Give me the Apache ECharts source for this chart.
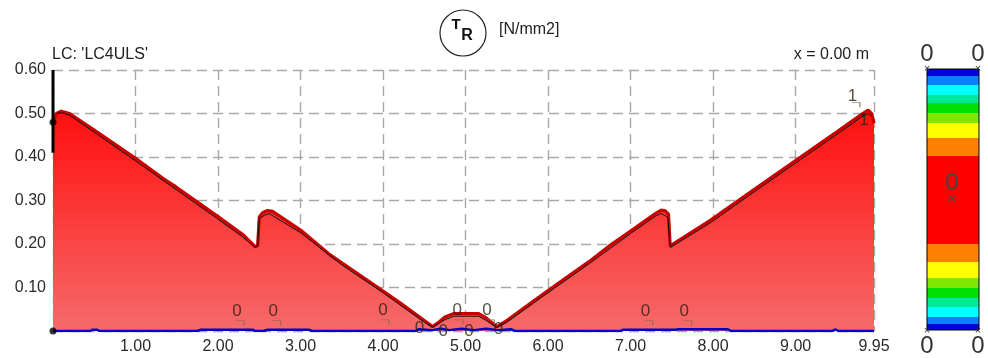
<!DOCTYPE html>
<html>
<head>
<meta charset="utf-8">
<script src="https://cdn.jsdelivr.net/npm/echarts@6/dist/echarts.min.js"></script>
<style>html,body{margin:0;padding:0;background:#fff}#c{width:988px;height:358px}</style>
</head>
<body>
<div id="c"></div>
<script>
// ---- data ----
var xTicks = [0, 1, 2, 3, 4, 5, 6, 7, 8, 9, 9.95];
var yTicks = [0, 0.1, 0.2, 0.3, 0.4, 0.5, 0.6];
var redCurve = [
  [0.00,0.480],[0.04,0.500],[0.10,0.505],[0.20,0.500],[0.50,0.462],[1.00,0.397],[1.34,0.350],
  [1.50,0.330],[2.00,0.263],[2.30,0.222],[2.45,0.194],[2.48,0.196],[2.50,0.262],[2.54,0.272],
  [2.60,0.277],[2.66,0.275],[3.00,0.232],[3.36,0.175],[3.50,0.157],[4.00,0.092],[4.21,0.064],
  [4.50,0.024],[4.60,0.010],[4.66,0.018],[4.75,0.032],[4.86,0.040],[5.16,0.040],[5.25,0.030],
  [5.38,0.010],[5.50,0.024],[5.79,0.064],[6.00,0.093],[6.50,0.160],[6.76,0.198],[7.00,0.230],
  [7.30,0.270],[7.37,0.278],[7.42,0.276],[7.46,0.268],[7.48,0.196],[7.50,0.194],[7.97,0.255],
  [8.50,0.326],[9.00,0.392],[9.50,0.458],[9.80,0.498],[9.88,0.508],[9.92,0.500],[9.95,0.478]
];
var blackCurve = [
  [0.05,0.500],[0.10,0.502],[0.20,0.496],[0.50,0.457],[1.00,0.391],[1.50,0.324],[2.00,0.257],
  [2.30,0.216],[2.45,0.192],[2.48,0.196],[2.50,0.258],[2.56,0.266],[2.62,0.270],[3.00,0.226],
  [3.50,0.152],[4.00,0.088],[4.50,0.020],[4.60,0.009],[4.75,0.026],[4.86,0.034],[5.16,0.034],
  [5.25,0.024],[5.38,0.008],[5.50,0.020],[6.00,0.088],[6.50,0.155],[7.00,0.224],[7.30,0.264],
  [7.37,0.270],[7.45,0.262],[7.48,0.192],[7.97,0.249],[8.50,0.320],[9.00,0.386],[9.50,0.452],
  [9.80,0.492],[9.88,0.500],[9.92,0.494]
];
var blueCurve = [
  [0.00,0],[0.45,0],[0.48,0.003],[0.53,0.003],[0.56,0],[1.75,0],[1.79,0.003],[2.42,0.003],
  [2.45,0],[2.50,0],[2.52,0.003],[2.55,0],[2.60,0.003],[3.10,0.003],[3.14,0],[4.40,0],
  [4.43,0.004],[4.60,0.002],[4.70,0.005],[4.80,0.002],[4.95,0.005],[5.10,0.002],[5.25,0.005],
  [5.40,0.002],[5.55,0.004],[5.60,0],[6.88,0],[6.91,0.003],[7.55,0.003],[7.58,0.004],
  [8.18,0.004],[8.22,0],[9.45,0],[9.48,0.004],[9.52,0],[9.95,0]
];
var axisSegment = [[0,0.41],[0,0.60]];
var dots = [[0,0.48],[0,0]];
var zeroLabelsHigh = [[2.23,0.046],[2.67,0.046],[4.00,0.048],[4.90,0.048],[5.26,0.048],[7.18,0.045],[7.65,0.045]];
var zeroLabelsLow = [[4.44,0.007],[4.73,0.000],[5.04,0.000],[5.40,0.003]];
var oneLabels = [[9.69,0.539],[9.83,0.485]];
var brackets = [[2.27,0.018],[2.71,0.018],[4.02,0.020],[4.92,0.020],[5.30,0.020],[7.22,0.018],[7.69,0.018],[9.73,0.520]];
var legendColors = ['#0000dd','#0a80ff','#00ffff','#00e89a','#00e000','#80e800','#ffff00','#ff8000','#ff0000',
                    '#ff8000','#ffff00','#80e800','#00e000','#00e89a','#00ffff','#0a80ff','#0000dd'];
var legendBands = [6,7,10,9,10,10,16,18,88,18,15,10,10,8,10,9,7];
var legendCategory = ['band'];

// ---- chart ----
var FONT = 'Liberation Sans, Arial, sans-serif';
var chart = echarts.init(document.getElementById('c'), null, {renderer: 'canvas'});
var gridDash = {color: '#a9a9a9', width: 1.4, type: [10, 6]};

var series = [
  {
    type: 'line', xAxisIndex: 0, yAxisIndex: 0, data: redCurve, showSymbol: false, z: 2,
    lineStyle: {color: '#c80000', width: 3.2},
    areaStyle: {color: new echarts.graphic.LinearGradient(0, 0, 0, 1, [
      {offset: 0, color: '#ff0e0e'}, {offset: 1, color: '#f66a6a'}]), opacity: 1}
  },
  {type: 'line', data: blackCurve, showSymbol: false, z: 3, lineStyle: {color: '#111', width: 1}},
  {type: 'line', data: blueCurve, showSymbol: false, z: 4, lineStyle: {color: '#0000cc', width: 2.5}},
  {type: 'line', data: axisSegment, showSymbol: false, z: 5, lineStyle: {color: '#000', width: 3}},
  {type: 'scatter', data: dots, symbolSize: 7, z: 6, itemStyle: {color: '#000'}},
  {type: 'scatter', data: brackets, z: 6, symbol: 'path://M0,0L8,0L8,5', symbolSize: [8, 5],
   itemStyle: {color: 'none', borderColor: '#8a6a50', borderWidth: 1}},
  {type: 'scatter', data: zeroLabelsHigh.concat(zeroLabelsLow), symbolSize: 0, z: 7,
   label: {show: true, position: 'inside', formatter: '0', color: '#2a2018', fontSize: 17, fontFamily: FONT}},
  {type: 'scatter', data: oneLabels, symbolSize: 0, z: 7,
   label: {show: true, position: 'inside', formatter: '1', color: '#2a2018', fontSize: 17, fontFamily: FONT}}
];
legendBands.forEach(function (h, i) {
  series.push({
    type: 'bar', xAxisIndex: 1, yAxisIndex: 1, stack: 'legend', data: [h], barWidth: '100%',
    itemStyle: {color: legendColors[i]}, silent: true
  });
});

chart.setOption({
  animation: false,
  textStyle: {fontFamily: FONT},
  grid: [
    {left: 53, right: 114, top: 70, bottom: 27},
    {left: 927, width: 52, top: 69, height: 261, show: true, borderColor: '#000', borderWidth: 1, z: 10, backgroundColor: 'transparent'}
  ],
  xAxis: [
    {type: 'value', gridIndex: 0, min: xTicks[0], max: xTicks[xTicks.length - 1], interval: 1,
     axisLine: {show: false}, axisTick: {show: false},
     axisLabel: {color: '#2a2a2a', fontSize: 16, fontFamily: FONT, margin: 8, showMaxLabel: true,
       formatter: function (v) { return v === 0 ? '' : v.toFixed(2); }},
     splitLine: {show: true, lineStyle: gridDash}},
    {type: 'category', gridIndex: 1, data: legendCategory, show: false}
  ],
  yAxis: [
    {type: 'value', gridIndex: 0, min: yTicks[0], max: yTicks[yTicks.length - 1], interval: 0.1,
     axisLine: {show: false}, axisTick: {show: false},
     axisLabel: {color: '#2a2a2a', fontSize: 16, fontFamily: FONT, margin: 7,
       formatter: function (v) { return v === 0 ? '' : v.toFixed(2); }},
     splitLine: {show: true, lineStyle: gridDash}},
    {type: 'value', gridIndex: 1, min: 0, max: 261, show: false}
  ],
  graphic: [
    {type: 'circle', shape: {cx: 463, cy: 33, r: 23}, style: {fill: 'none', stroke: '#222', lineWidth: 1.2}},
    {type: 'text', x: 456, y: 25, style: {text: 'T', font: 'bold 15px ' + FONT, fill: '#111', align: 'center', verticalAlign: 'middle'}},
    {type: 'text', x: 467, y: 36, style: {text: 'R', font: 'bold 16px ' + FONT, fill: '#111', align: 'center', verticalAlign: 'middle'}},
    {type: 'text', x: 499, y: 30, style: {text: '[N/mm2]', font: '16px ' + FONT, fill: '#222', verticalAlign: 'middle'}},
    {type: 'text', x: 52, y: 55, style: {text: "LC: 'LC4ULS'", font: '16px ' + FONT, fill: '#222', verticalAlign: 'middle'}},
    {type: 'text', x: 869, y: 55, style: {text: 'x = 0.00 m', font: '16px ' + FONT, fill: '#222', align: 'right', verticalAlign: 'middle'}},
    {type: 'text', x: 927, y: 54, style: {text: '0', font: '24px ' + FONT, fill: '#333', align: 'center', verticalAlign: 'middle'}},
    {type: 'text', x: 978, y: 54, style: {text: '0', font: '24px ' + FONT, fill: '#333', align: 'center', verticalAlign: 'middle'}},
    {type: 'text', x: 927, y: 346, style: {text: '0', font: '24px ' + FONT, fill: '#333', align: 'center', verticalAlign: 'middle'}},
    {type: 'text', x: 978, y: 346, style: {text: '0', font: '24px ' + FONT, fill: '#333', align: 'center', verticalAlign: 'middle'}},
    {type: 'text', x: 952, y: 183, z: 20, style: {text: '0', font: '24px ' + FONT, fill: '#444', align: 'center', verticalAlign: 'middle'}},
    {type: 'text', x: 952, y: 200, z: 20, style: {text: '×', font: '16px ' + FONT, fill: '#444', align: 'center', verticalAlign: 'middle'}},
    {type: 'text', x: 927, y: 69, z: 20, style: {text: '×', font: '11px ' + FONT, fill: '#333', align: 'center', verticalAlign: 'middle'}},
    {type: 'text', x: 978, y: 69, z: 20, style: {text: '×', font: '11px ' + FONT, fill: '#333', align: 'center', verticalAlign: 'middle'}},
    {type: 'text', x: 927, y: 331, z: 20, style: {text: '×', font: '11px ' + FONT, fill: '#333', align: 'center', verticalAlign: 'middle'}},
    {type: 'text', x: 978, y: 331, z: 20, style: {text: '×', font: '11px ' + FONT, fill: '#333', align: 'center', verticalAlign: 'middle'}}
  ],
  series: series
});
</script>
</body>
</html>
